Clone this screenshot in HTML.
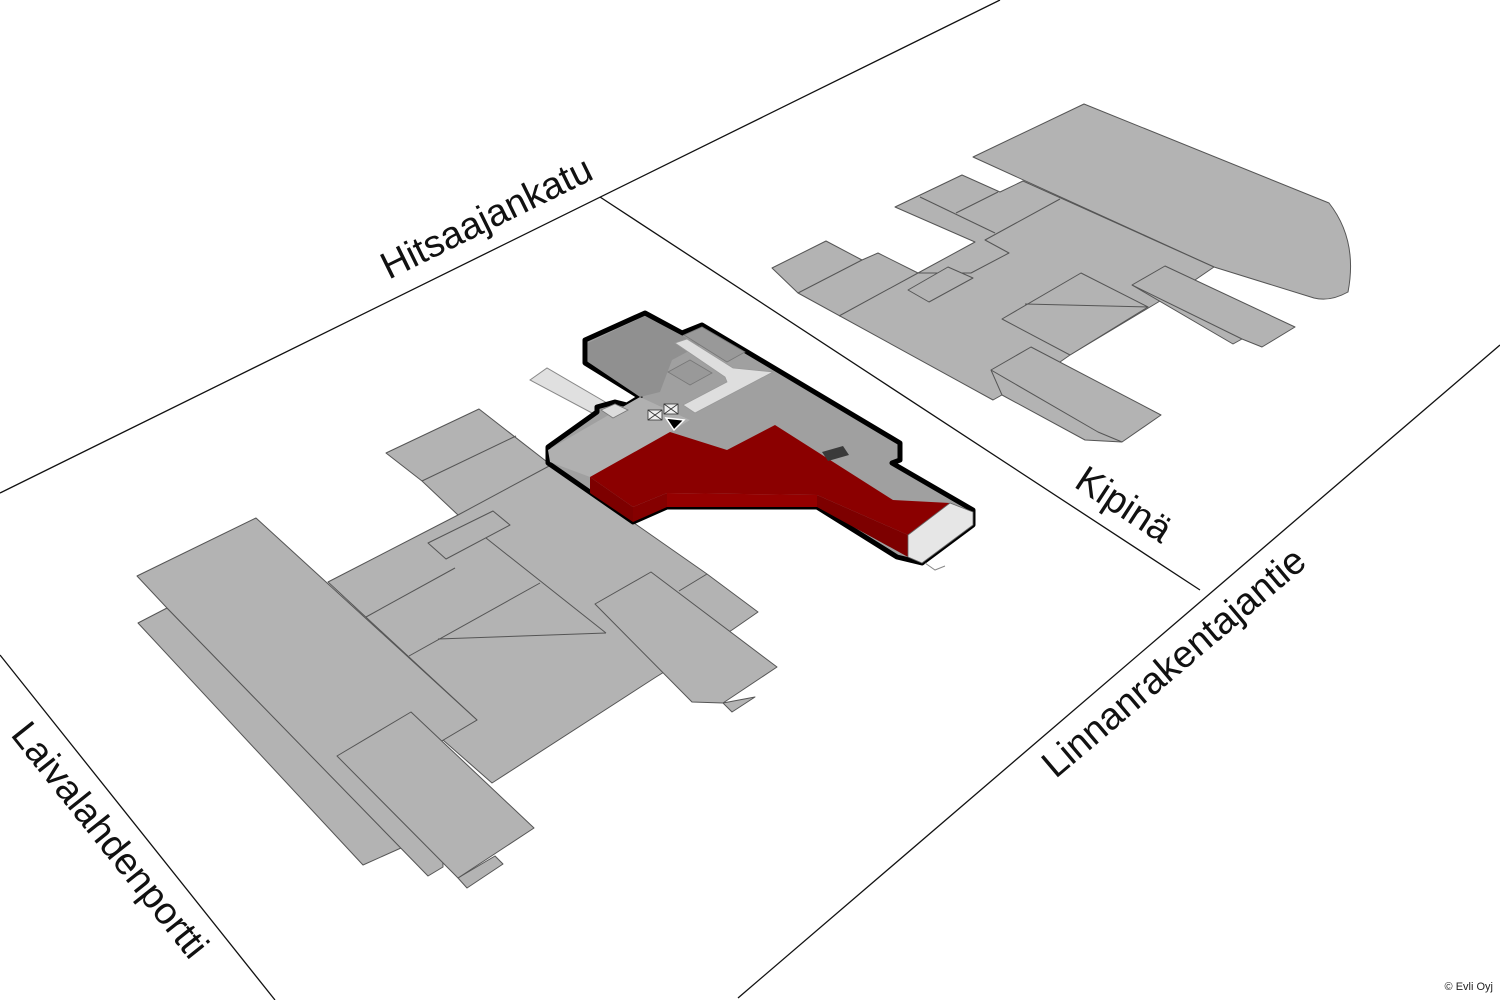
<!DOCTYPE html>
<html><head><meta charset="utf-8"><style>html,body{margin:0;padding:0;background:#fff}svg{display:block}</style></head>
<body>
<svg width="1500" height="1000" viewBox="0 0 1500 1000" xmlns="http://www.w3.org/2000/svg">
<rect width="1500" height="1000" fill="#fff"/>
<g stroke="#111" stroke-width="1.3" fill="none">
<line x1="0" y1="493" x2="1000" y2="0"/>
<line x1="600" y1="197" x2="1200" y2="590"/>
<line x1="0" y1="655" x2="275" y2="1000"/>
<line x1="738" y1="998" x2="1500" y2="345"/>
</g>
<g fill="#b3b3b3" stroke="#555" stroke-width="1" stroke-linejoin="round">
<!-- left complex -->
<polygon points="386,453 479,409 551,465 707,574 758,612 732,630 656,677 492,783 443,740 477,720 328,582 458,515 422,481"/>
<polyline points="422,481 516,436" fill="none"/>
<polyline points="458,515 551,465" fill="none"/>
<polyline points="366,617 455,568" fill="none"/>
<polygon points="428,543 493,511 510,525 446,559"/>
<polyline points="409,656 540,583" fill="none"/>
<polyline points="438,639 606,633" fill="none"/>
<polyline points="486,538 606,633" fill="none"/>
<polyline points="679,591 707,574" fill="none"/>
<polygon points="138,623 167,608 401,848 363,865"/>
<polygon points="137,576 256,518 477,720 440,742 443,867 428,876 167,608"/>
<polygon points="692,702 595,604 651,572 777,667 723,703"/>
<polygon points="723,703 755,697 732,712"/>
<polygon points="458,878 467,888 503,864 495,856"/>
<polygon points="337,756 411,712 534,828 458,878"/>
<!-- right complex -->
<path d="M973,157 L1084,104 L1329,203 Q1358,240 1348,292 Q1330,302 1314,298 L1214,267 Z"/>
<polygon points="772,268 826,241 862,260 878,253 918,273 975,242 895,207 962,175 1000,192 1023,181 1214,267 1195,280 1150,307 1070,355 1060,362 993,400 798,293"/>
<polyline points="920,197 995,233" fill="none"/>
<polyline points="956,213 998,192" fill="none"/>
<polyline points="1060,199 985,240 1009,253 971,273 918,273" fill="none"/>
<polygon points="908,290 948,267 973,278 929,302"/>
<polyline points="839,316 918,273" fill="none"/>
<polyline points="798,293 862,260" fill="none"/>
<polygon points="1002,319 1081,273 1148,307 1070,355"/>
<polyline points="1025,304 1148,307" fill="none"/>
<polygon points="1132,285 1165,266 1295,327 1262,347 1242,339 1233,344"/>
<polyline points="1132,285 1242,339" fill="none"/>
<polygon points="991,370 1031,347 1161,415 1122,442 1085,440 1002,395"/>
<polyline points="991,370 1098,432 1122,442" fill="none"/>
</g>
<!-- walkway -->
<polygon points="530,380 547,368 607,403 592,413" fill="#e0e0e0" stroke="#888" stroke-width="1"/>
<!-- red building -->
<polygon points="585,340 645,313 682,333 702,325 900,443 900,460 892,463 973,510 973,525 922,563 897,557 817,507 667,507 633,522 548,463 548,447 597,412 597,407 615,402 627,405 640,397 585,363" fill="#a0a0a0" stroke="#000" stroke-width="5" stroke-linejoin="round"/>
<polygon points="588,343 645,316 683,336 700,345 672,360 660,392 640,397 588,362" fill="#909090"/>
<g stroke="#777" stroke-width="0.8" fill="#999">
<polygon points="684,335 702,327 745,352 727,362"/>
<polygon points="668,372 690,360 712,373 690,385"/>
</g>
<polygon points="675,343 687,339 733,368 773,372 695,413 683,405 727,382 725,377" fill="#dedede" stroke="#999" stroke-width="0.8"/>
<polygon points="548,450 640,397 668,410 690,420 670,432 590,477 550,462" fill="#b0b0b0"/>
<polygon points="601,410 615,404 628,410 613,418" fill="#dcdcdc" stroke="#777" stroke-width="0.8"/>
<polygon points="590,477 670,432 727,450 775,425 893,500 950,503 908,535 817,495 667,493 633,507" fill="#8b0000"/>
<polygon points="590,477 633,507 633,522 590,493" fill="#7d0000"/>
<polygon points="633,507 667,493 667,507 633,522" fill="#850000"/>
<polygon points="667,493 817,495 817,507 667,507" fill="#950000"/>
<polygon points="817,495 908,535 908,557 817,507" fill="#7d0000"/>
<polygon points="908,535 950,503 973,512 973,525 922,563 908,557" fill="#e6e6e6" stroke="#666" stroke-width="0.8"/>
<polygon points="822,452 843,446 849,455 828,461" fill="#3a3a3a"/>
<g stroke="#333" stroke-width="0.8" fill="#eee">
<rect x="648" y="410" width="14" height="10"/>
<rect x="664" y="404" width="14" height="10"/>
<path d="M648,410 L662,420 M662,410 L648,420 M664,404 L678,414 M678,404 L664,414" fill="none"/>
</g>
<polygon points="666,418 684,420 674,430" fill="#000" stroke="#fff" stroke-width="1.5"/>
<path d="M925,563 L935,570 L945,566" stroke="#888" fill="none"/>
<!-- labels -->
<g font-family="'Liberation Sans', sans-serif" fill="#111" font-size="38" text-anchor="middle">
<text transform="translate(492,229) rotate(-26.2)">Hitsaajankatu</text>
<text transform="translate(1117,515) rotate(33.2)">Kipinä</text>
<text transform="translate(1182,672) rotate(-40.3)">Linnanrakentajantie</text>
<text transform="translate(100,848) rotate(51.4)">Laivalahdenportti</text>
</g>
<text x="1493" y="990" font-family="'Liberation Sans', sans-serif" font-size="11" fill="#222" text-anchor="end">© Evli Oyj</text>
</svg>
</body></html>
